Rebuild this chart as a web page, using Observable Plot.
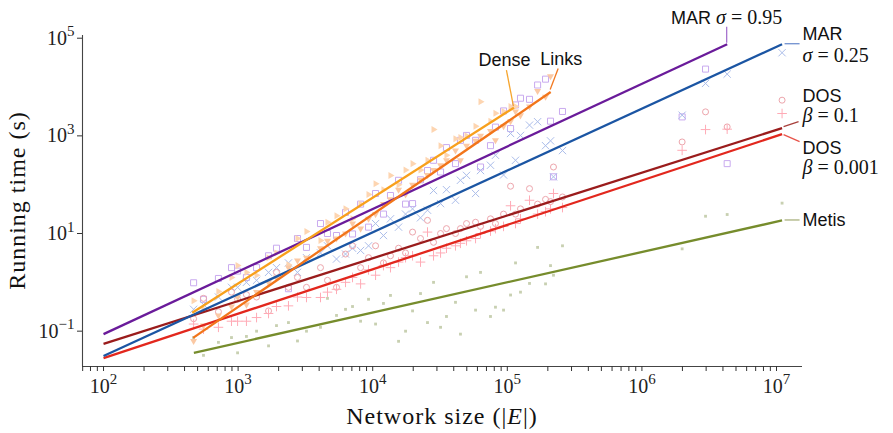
<!DOCTYPE html>
<html>
<head>
<meta charset="utf-8">
<script src="https://cdn.jsdelivr.net/npm/d3@7"></script>
<script src="https://cdn.jsdelivr.net/npm/@observablehq/plot@0.6"></script>
<style>
  html, body { margin: 0; padding: 0; background: #fff; }
</style>
</head>
<body>
<script>
// ---------- data ----------
const edges = [467,553,714,893,991,1153,1371,1683,1928,2366,
  2761,3221,4093,4613,5383,6281,7079,8128,9311,10500,
  12020,13550,15560,17540,19770,22650,25530,28310,31920,35320,
  41210,44870,49770,58080,63240,74990,81660,93760,105700,115100,
  125300,146200,167900,192300,209400,220300,257000,
  1990000,2970000,4300000,11000000];

const timeMar095 = [0.98,0.45,1.2,2.0,1.7,1.26,2.0,3.5,5.0,0.74,
  7.9,5.2,16,10,9.1,27,9.8,40,13.5,66,
  25,60,123,40,41,126,195,316,182,575,
  270,810,1020,810,230,630,1510,3240,1410,4300,
  5900,5600,11000,14500,2000,145,3160,
  2445,23300,270,null];

const timeMar025 = [0.28,0.35,0.5,0.79,0.79,1.0,1.1,1.6,2.0,2.5,
  1.6,3.2,4.0,5.6,3.0,3.8,5.0,4.5,5.6,16,
  9.1,20,13.5,25,32,21,30,76,41,79,
  48,123,155,66,195,250,400,158,1120,316,
  1020,1660,1950,630,790,145,500,
  2650,11860,18400,50400];

const timeDos01 = [0.18,0.47,0.25,0.63,0.45,0.56,0.5,0.26,1.6,0.79,
  1.26,0.79,2.0,1.1,0.79,3.8,5.6,2.0,3.2,5.6,
  2.5,3.5,5.0,4.0,10.7,7.9,18.6,6.6,10,12.6,
  10,12.6,16,17,14,20,16,25,93,25,
  32,83,40,50,45,230,56,
  750,3100,1525,5380];

const timeDos0001 = [0.14,0.11,0.12,0.16,0.16,0.16,0.19,0.23,0.32,0.33,
  0.5,0.49,0.49,0.63,0.72,1.0,1.26,0.93,1.8,1.4,
  2.2,2.0,2.6,3.2,3.5,2.6,10.7,3.5,4.0,5.0,
  5.6,6.3,7.1,7.9,10,11.2,12.6,14,37,16,
  20,48,25,28,32,66,34,
  506,1345,1370,2870];

const timeMetis = [0.074,0.032,0.059,0.074,0.036,0.078,0.1,0.05,0.13,0.15,
  0.063,0.1,0.12,0.47,0.21,0.28,0.32,0.16,0.45,0.14,
  0.37,0.54,0.062,0.10,0.26,0.59,0.15,1.0,0.12,0.2,
  0.39,0.087,1.3,0.27,1.6,0.2,0.31,0.27,0.55,2.5,
  0.63,0.95,5.2,0.93,2.2,1.4,5.6,
  4.85,22.6,24.5,41.9];

const timeDense = [0.42,0.28,0.65,1.26,2.2,1.6,1.4,3.2,4.0,2.3,
  7.9,11,7.2,17,23,32,20,40,63,105,
  79,155,100,200,270,200,316,1350,630,400,
  870,930,1000,1580,5000,2000,2900,3160,4000,4000,
  null,null,null,null,null,null,null,
  null,null,null,null];

const timeLinks = [0.063,0.13,0.21,0.32,0.5,0.35,0.63,1.0,1.26,2.0,
  2.8,3.2,5.0,7.1,7.9,10,16,12.6,20,25,
  40,50,79,63,100,126,158,200,250,316,
  500,316,630,790,1000,1260,810,1580,2000,3160,
  2630,4000,8300,6300,16600,null,null,
  null,null,null,null];

// fitted power-law lines (end points, in data units)
const fitNames = ["MAR σ=0.95","MAR σ=0.25","DOS β=0.1","DOS β=0.001","Metis","Dense","Links"];
const fitX0 = [100,100,100,100,469,456,463];
const fitX1 = [4.3e6,1.1e7,1.1e7,1.1e7,1.1e7,1.12e5,2.1e5];
const fitY0 = [0.087,0.031,0.055,0.028,0.036,0.238,0.073];
const fitY1 = [75300,75300,1440,1085,18.5,3780,7890];

const xMajorTicks = [100,1000,10000,100000,1000000,10000000];
const xMinorTicks = [70,80,90].concat(...[100,1000,10000,100000,1000000].map(b => [2,3,4,5,6,7,8,9].map(k => k*b)));
const yMajorTicks = [0.1,10,1000,100000];
const xDomain = [69.8, 1.56e7];
const yDomain = [0.0189, 1.136e5];

// ---------- styles ----------
const seriesStyle = [
  {values: timeMar095,  symbol: "square",   r: 3.4, stroke: "#c9aaef", fill: "none"},
  {values: timeMar025,  symbol: "times",    r: 3.4, stroke: "#abbdea", fill: "none"},
  {values: timeDos01,   symbol: "circle",   r: 3.0, stroke: "#eda5ac", fill: "none"},
  {values: timeDos0001, symbol: "plus",     r: 3.2, stroke: "#ffabb6", fill: "none"},
  {values: timeMetis,   symbol: "square",   r: 1.6, stroke: "none",    fill: "#c8d0b1"},
  {values: timeDense,   symbol: "triangle", r: 2.6, stroke: "none",    fill: "#fdd5b1", rotate: 90},
  {values: timeLinks,   symbol: "triangle", r: 2.6, stroke: "none",    fill: "#fbc9a4", rotate: 180}
];
const lineColors  = ["#6a1b9a","#1b55a3","#9a1c1c","#e2271d","#768c2c","#f8a01c","#f2751a"];
const leaderColors = ["#a774cf","#6f90cf","#a8403c","#e8544a","#aab27f","#f6a52e","#f27a22"];
const drawOrder = [4,3,2,1,0,6,5];

const fits = fitNames.map((n, i) => ({name: n, x0: fitX0[i], x1: fitX1[i], y0: fitY0[i], y1: fitY1[i]}));

const marks = [];
// scatter
seriesStyle.forEach(s => {
  const data = edges.map((e, i) => ({x: e, y: s.values[i]})).filter(d => d.y != null);
  const o = {x: "x", y: "y", symbol: s.symbol, r: s.r, stroke: s.stroke, fill: s.fill, strokeWidth: 1};
  if (s.rotate) o.rotate = s.rotate;
  marks.push(Plot.dot(data, o));
});
// fit lines
drawOrder.forEach(i => {
  marks.push(Plot.link([fits[i]], {x1: "x0", y1: "y0", x2: "x1", y2: "y1", stroke: lineColors[i], strokeWidth: 2.3}));
});
// spines
marks.push(Plot.ruleX([xDomain[0]], {stroke: "#444", strokeWidth: 1.1}));
marks.push(Plot.ruleY([yDomain[0]], {stroke: "#444", strokeWidth: 1.1}));

const fmtPow = d => "10^" + Math.round(Math.log10(d));
marks.push(Plot.axisX(xMajorTicks, {tickSize: 5, tickPadding: 7, tickFormat: fmtPow, label: null, fontSize: 20, stroke: "#333", fill: "#222"}));
marks.push(Plot.axisX(xMinorTicks, {tickSize: 5, tickFormat: () => "", label: null, stroke: "#333"}));
marks.push(Plot.axisY(yMajorTicks, {tickSize: 5, tickPadding: 3, tickFormat: fmtPow, label: null, fontSize: 20, stroke: "#333", fill: "#222"}));

const plot = Plot.plot({
  width: 893, height: 433,
  marginLeft: 82, marginRight: 91, marginTop: 35, marginBottom: 67,
  style: {fontFamily: "'Liberation Serif', serif", fontSize: "20px", background: "#fff", color: "#222"},
  x: {type: "log", domain: xDomain},
  y: {type: "log", domain: yDomain},
  marks
});
document.body.append(plot);

const svg = d3.select(plot);
// superscript tick labels
svg.selectAll("text").each(function() {
  const m = /^10\^(-?\d+)$/.exec(this.textContent);
  if (m) {
    const el = d3.select(this);
    el.text("");
    el.append("tspan").attr("font-size", "20px").text("10");
    el.append("tspan").attr("dy", "-0.55em").attr("font-size", "15px").text(m[1].replace("-", "\u2212"));
  }
});

const sx = plot.scale("x"), sy = plot.scale("y");
const fontFor = {
  sans:   {family: "'Liberation Sans', sans-serif", size: 18, style: "normal"},
  mathit: {family: "'Liberation Serif', serif", size: 20, style: "italic"},
  math:   {family: "'Liberation Serif', serif", size: 20, style: "normal"}
};
const labels = [
  {fit: 0, leader: [[0,-1],[0,-17]], lines: [{dx: 0, dy: -20, anchor: "middle", parts: [["MAR ","sans"],["σ","mathit"],[" = 0.95","math"]]}]},
  {fit: 1, leader: [[3,0],[18,0]], lines: [{dx: 21, dy: -4, parts: [["MAR","sans"]]}, {dx: 21, dy: 18, parts: [["σ","mathit"],[" = 0.25","math"]]}]},
  {fit: 2, leader: [[2,-1],[17,-6]], lines: [{dx: 21, dy: -26, parts: [["DOS","sans"]]}, {dx: 21, dy: -6, parts: [["β","mathit"],[" = 0.1","math"]]}]},
  {fit: 3, leader: [[2,1],[18,8]], lines: [{dx: 21, dy: 20, parts: [["DOS","sans"]]}, {dx: 21, dy: 40, parts: [["β","mathit"],[" = 0.001","math"]]}]},
  {fit: 4, leader: [[3,0],[18,0]], lines: [{dx: 21, dy: 6, parts: [["Metis","sans"]]}]},
  {fit: 5, leader: [[0,-1],[-7,-37]], lines: [{dx: -9, dy: -41, anchor: "middle", parts: [["Dense","sans"]]}]},
  {fit: 6, leader: [[0,-2],[8,-23]], lines: [{dx: 11, dy: -27, anchor: "middle", parts: [["Links","sans"]]}]}
];
const ann = svg.append("g");
labels.forEach(lb => {
  const f = fits[lb.fit];
  const px = sx.apply(f.x1), py = sy.apply(f.y1);
  ann.append("line")
    .attr("x1", px + lb.leader[0][0]).attr("y1", py + lb.leader[0][1])
    .attr("x2", px + lb.leader[1][0]).attr("y2", py + lb.leader[1][1])
    .attr("stroke", leaderColors[lb.fit]).attr("stroke-width", 1.3);
  lb.lines.forEach(ln => {
    const t = ann.append("text")
      .attr("x", px + ln.dx).attr("y", py + ln.dy)
      .attr("text-anchor", ln.anchor || "start")
      .attr("fill", "#111")
      .style("white-space", "pre");
    ln.parts.forEach(([s, k]) => {
      const fo = fontFor[k];
      t.append("tspan").attr("font-family", fo.family).attr("font-size", fo.size)
        .attr("font-style", fo.style).text(s);
    });
  });
});

// axis titles
const xr = sx.range, yr = sy.range;
const xt = svg.append("text")
  .attr("x", (xr[0] + xr[1]) / 2).attr("y", 424)
  .attr("text-anchor", "middle").attr("fill", "#111")
  .attr("font-family", "'Liberation Serif', serif").attr("font-size", 24)
  .style("letter-spacing", "1px");
xt.append("tspan").text("Network size (|");
xt.append("tspan").attr("font-style", "italic").text("E");
xt.append("tspan").text("|)");

svg.append("text")
  .attr("transform", `translate(25,${(yr[0] + yr[1]) / 2}) rotate(-90)`)
  .attr("text-anchor", "middle").attr("fill", "#111")
  .attr("font-family", "'Liberation Serif', serif").attr("font-size", 24)
  .style("letter-spacing", "1px")
  .text("Running time (s)");
</script>
</body>
</html>
